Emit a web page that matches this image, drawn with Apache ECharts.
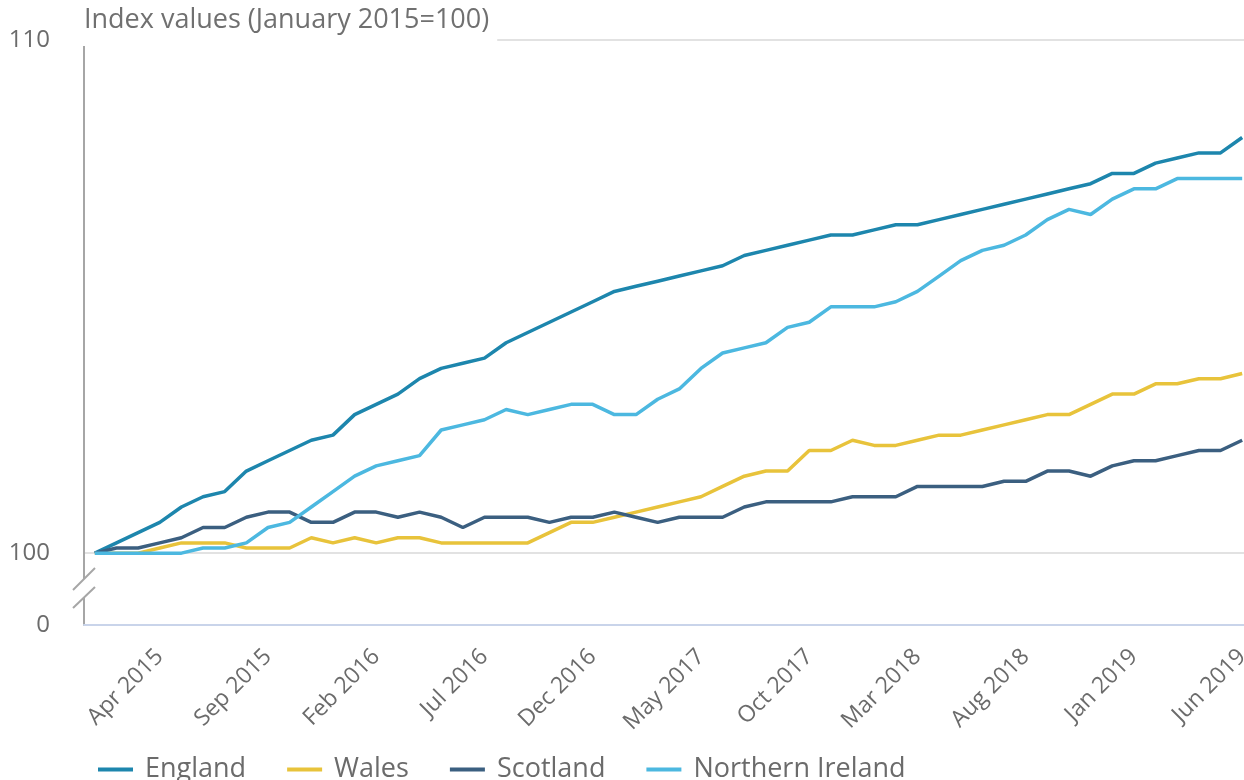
<!DOCTYPE html>
<html>
<head>
<meta charset="utf-8">
<title>House price index by country</title>
<script src="https://cdn.jsdelivr.net/npm/echarts@6/dist/echarts.min.js"></script>
<style>
  html, body { margin: 0; padding: 0; background: #fff; overflow: hidden; }
  #chart { width: 1253px; height: 780px; }
</style>
</head>
<body>
<div id="chart"></div>
<script>
// months Jan 2015 .. Jun 2019
const months = [
  'Jan 2015','Feb 2015','Mar 2015','Apr 2015','May 2015','Jun 2015','Jul 2015','Aug 2015','Sep 2015','Oct 2015','Nov 2015','Dec 2015',
  'Jan 2016','Feb 2016','Mar 2016','Apr 2016','May 2016','Jun 2016','Jul 2016','Aug 2016','Sep 2016','Oct 2016','Nov 2016','Dec 2016',
  'Jan 2017','Feb 2017','Mar 2017','Apr 2017','May 2017','Jun 2017','Jul 2017','Aug 2017','Sep 2017','Oct 2017','Nov 2017','Dec 2017',
  'Jan 2018','Feb 2018','Mar 2018','Apr 2018','May 2018','Jun 2018','Jul 2018','Aug 2018','Sep 2018','Oct 2018','Nov 2018','Dec 2018',
  'Jan 2019','Feb 2019','Mar 2019','Apr 2019','May 2019','Jun 2019'
]

const england = [100.0,100.2,100.4,100.6,100.9,101.1,101.2,101.6,101.8,102.0,102.2,102.3,102.7,102.9,103.1,103.4,103.6,103.7,
  103.8,104.1,104.3,104.5,104.7,104.9,105.1,105.2,105.3,105.4,105.5,105.6,105.8,105.9,106.0,106.1,106.2,106.2,
  106.3,106.4,106.4,106.5,106.6,106.7,106.8,106.9,107.0,107.1,107.2,107.4,107.4,107.6,107.7,107.8,107.8,108.1]

const wales = [100.0,100.0,100.0,100.1,100.2,100.2,100.2,100.1,100.1,100.1,100.3,100.2,100.3,100.2,100.3,100.3,100.2,100.2,
  100.2,100.2,100.2,100.4,100.6,100.6,100.7,100.8,100.9,101.0,101.1,101.3,101.5,101.6,101.6,102.0,102.0,102.2,
  102.1,102.1,102.2,102.3,102.3,102.4,102.5,102.6,102.7,102.7,102.9,103.1,103.1,103.3,103.3,103.4,103.4,103.5]

const scotland = [100.0,100.1,100.1,100.2,100.3,100.5,100.5,100.7,100.8,100.8,100.6,100.6,100.8,100.8,100.7,100.8,100.7,100.5,
  100.7,100.7,100.7,100.6,100.7,100.7,100.8,100.7,100.6,100.7,100.7,100.7,100.9,101.0,101.0,101.0,101.0,101.1,
  101.1,101.1,101.3,101.3,101.3,101.3,101.4,101.4,101.6,101.6,101.5,101.7,101.8,101.8,101.9,102.0,102.0,102.2]

const northernIreland = [100.0,100.0,100.0,100.0,100.0,100.1,100.1,100.2,100.5,100.6,100.9,101.2,101.5,101.7,101.8,101.9,102.4,102.5,
  102.6,102.8,102.7,102.8,102.9,102.9,102.7,102.7,103.0,103.2,103.6,103.9,104.0,104.1,104.4,104.5,104.8,104.8,
  104.8,104.9,105.1,105.4,105.7,105.9,106.0,106.2,106.5,106.7,106.6,106.9,107.1,107.1,107.3,107.3,107.3,107.3]

// y tick labels: the lowest one stands for 0 (axis is broken)
const yTicks = [98.6, 100, 110]
const yTickText = ['0', '100', '110']

const fontName = '"Open Sans", sans-serif'
const grey = '#6b6b6b'

const myChart = echarts.init(document.getElementById('chart'))

const mkLine = (name, data, color) => ({
  name: name,
  type: 'line',
  data: data,
  showSymbol: false,
  symbol: 'none',
  lineStyle: { color: color, width: 3.5 },
  itemStyle: { color: color }
})

const option = {
  animation: false,
  textStyle: { fontFamily: fontName },
  title: {
    text: 'Index values (January 2015=100)',
    left: 82,
    top: 3,
    padding: [4, 8, 12, 2],
    backgroundColor: '#fff',
    textStyle: { color: '#707070', fontSize: 27, fontWeight: 'normal', fontFamily: fontName }
  },
  grid: { left: 84, right: 0, top: 40, bottom: 155, containLabel: false },
  legend: {
    left: 93,
    top: 751,
    icon: 'rect',
    itemWidth: 35,
    itemHeight: 4,
    itemGap: 41,
    textStyle: { color: grey, fontSize: 27, fontFamily: fontName, padding: [0, 0, 0, 7] },
    data: ['England', 'Wales', 'Scotland', 'Northern Ireland']
  },
  xAxis: {
    type: 'category',
    data: months,
    boundaryGap: true,
    axisLine: { lineStyle: { color: '#c9d4ea', width: 2 } },
    axisTick: {
      alignWithLabel: true,
      interval: (i) => i % 5 === 3,
      length: 20,
      lineStyle: { color: '#c9d4ea', width: 2 }
    },
    axisLabel: {
      interval: (i) => i % 5 === 3,
      rotate: 45,
      margin: 28,
      color: grey,
      fontSize: 23,
      fontFamily: fontName
    },
    splitLine: { show: false }
  },
  yAxis: {
    type: 'value',
    min: 98.6,
    max: 110,
    axisLine: { show: true, lineStyle: { color: '#a6a6a6', width: 2 } },
    axisTick: { show: false, customValues: [100, 110] },
    axisLabel: {
      customValues: yTicks,
      margin: 34,
      padding: [8, 0, 0, 0],
      color: grey,
      fontSize: 24,
      fontFamily: fontName,
      formatter: (v) => {
        const k = yTicks.findIndex(t => Math.abs(t - v) < 0.01)
        return k >= 0 ? yTickText[k] : ''
      }
    },
    splitLine: { show: true, lineStyle: { color: '#e2e2e2', width: 2 } }
  },
  // axis break marks
  graphic: [
    { type: 'rect', shape: { x: 79, y: 579, width: 10, height: 18 }, style: { fill: '#fff' }, z: 100 },
    { type: 'line', shape: { x1: 73, y1: 590, x2: 95, y2: 568 }, style: { stroke: '#a6a6a6', lineWidth: 2 }, z: 101 },
    { type: 'line', shape: { x1: 73, y1: 608, x2: 95, y2: 587 }, style: { stroke: '#a6a6a6', lineWidth: 2 }, z: 101 }
  ],
  series: [
    mkLine('England', england, '#1d86ad'),
    mkLine('Wales', wales, '#e8c33b'),
    mkLine('Scotland', scotland, '#3b5f80'),
    mkLine('Northern Ireland', northernIreland, '#4cb8e0')
  ]
}

myChart.setOption(option)
</script>
</body>
</html>
